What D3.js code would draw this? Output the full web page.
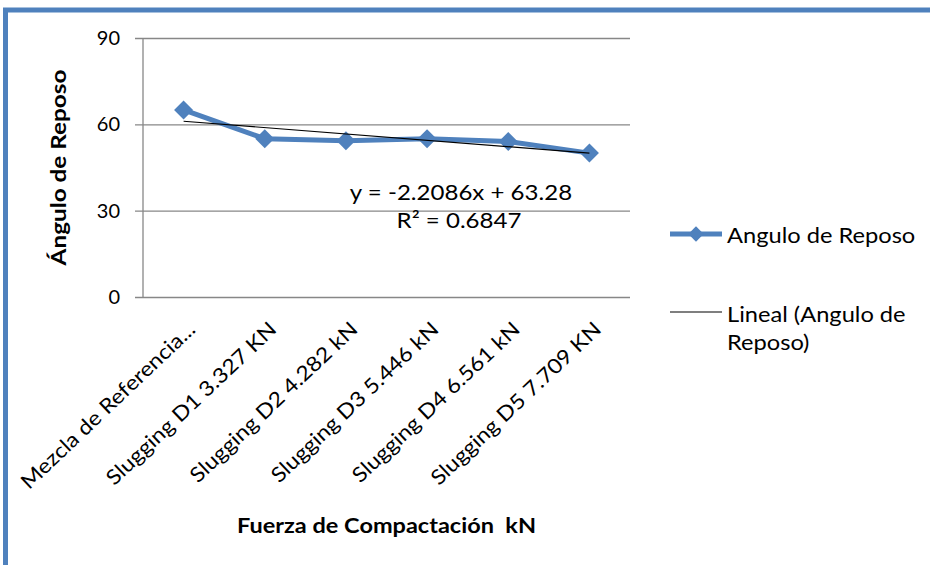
<!DOCTYPE html>
<html>
<head>
<meta charset="utf-8">
<script src="https://cdn.jsdelivr.net/npm/d3@7/dist/d3.min.js"></script>
<style>
  html, body { margin: 0; padding: 0; background: #fff; }
  svg { display: block; }
  text { font-family: Lato, "Open Sans", sans-serif; fill: #000; }
</style>
</head>
<body>
<svg id="chart" width="930" height="565"></svg>
<script>
// Angle of repose vs. compaction force
const categories = [
  "Mezcla de Referencia...",
  "Slugging D1 3.327 KN",
  "Slugging D2 4.282 kN",
  "Slugging D3 5.446 kN",
  "Slugging D4 6.561 kN",
  "Slugging D5 7.709 KN"
];
const anguloValues = [65, 55, 54.3, 55, 54, 50];
const yTicks = [0, 30, 60, 90];
const seriesName = "Angulo de Reposo";
const trendName = ["Lineal (Angulo de", "Reposo)"];
const yTitle = "Ángulo de Reposo";
const xTitle = "Fuerza de Compactación  kN";

const blue = "#4F81BD";
const gridGrey = "#878787";
const WIDEN = 1.12;   // glyphs widened along the text direction

const svg = d3.select("#chart");

// text helper: positioned, rotated and widened along its own baseline
function addText(parent, x, y, str, opt = {}) {
  const { angle = 0, size = 21, anchor = "start", weight = "normal", k = WIDEN } = opt;
  return parent.append("text")
    .attr("transform", `translate(${x},${y}) rotate(${angle}) scale(${k},1)`)
    .attr("text-anchor", anchor)
    .attr("font-size", size)
    .attr("font-weight", weight)
    .style("white-space", "pre")
    .text(str);
}

// frame
svg.append("rect")
  .attr("x", 5.5).attr("y", 10)
  .attr("width", 1000).attr("height", 1000)
  .attr("fill", "none").attr("stroke", blue).attr("stroke-width", 5);

const plot = { left: 143, right: 630, top: 38, bottom: 297 };

const x = d3.scaleBand().domain(categories).range([plot.left, plot.right]).padding(0);
const y = d3.scaleLinear().domain([0, 90]).range([plot.bottom, plot.top]);
const cx = d => x(d) + x.bandwidth() / 2;

// gridlines + y axis
const yAxis = d3.axisLeft(y).tickValues(yTicks).tickSize(-(plot.right - plot.left)).tickPadding(23);
const gy = svg.append("g").attr("transform", `translate(${plot.left},0)`).call(yAxis);
gy.select(".domain").remove();
gy.selectAll(".tick line").attr("stroke", gridGrey).attr("stroke-width", 1.3).attr("x1", -8);
gy.selectAll(".tick text").attr("font-size", 20).attr("fill", "#222").style("font-family", "Lato, sans-serif");

svg.append("line")
  .attr("x1", plot.left).attr("x2", plot.left)
  .attr("y1", plot.top).attr("y2", plot.bottom)
  .attr("stroke", gridGrey).attr("stroke-width", 1.3);

// category labels
const gx = svg.append("g");
categories.forEach(c => addText(gx, cx(c) + 13, plot.bottom + 34, c, { angle: -43.5, size: 20.6, anchor: "end", k: 1.12 }));

// series line
const line = d3.line().x((d, i) => cx(categories[i])).y(d => y(d));
svg.append("path").datum(anguloValues)
  .attr("d", line).attr("fill", "none")
  .attr("stroke", blue).attr("stroke-width", 5).attr("stroke-linejoin", "round");

// markers
const diamond = d3.symbol().type(d3.symbolDiamond2).size(230);
svg.selectAll(".marker").data(anguloValues).join("path")
  .attr("class", "marker")
  .attr("transform", (d, i) => `translate(${cx(categories[i])},${y(d)})`)
  .attr("d", diamond).attr("fill", blue);

// linear trendline (least squares over category index 1..n)
const n = anguloValues.length;
const xs = d3.range(1, n + 1);
const mx = d3.mean(xs), my = d3.mean(anguloValues);
const slope = d3.sum(xs, (xi, i) => (xi - mx) * (anguloValues[i] - my)) / d3.sum(xs, xi => (xi - mx) ** 2);
const intercept = my - slope * mx;
const ssTot = d3.sum(anguloValues, v => (v - my) ** 2);
const ssRes = d3.sum(xs, (xi, i) => (anguloValues[i] - (slope * xi + intercept)) ** 2);
const r2 = 1 - ssRes / ssTot;

svg.append("line")
  .attr("x1", cx(categories[0])).attr("y1", y(slope * 1 + intercept))
  .attr("x2", cx(categories[n - 1])).attr("y2", y(slope * n + intercept))
  .attr("stroke", "#000").attr("stroke-width", 1.2);

// equation label
addText(svg, 461, 200, `y = ${slope.toFixed(4)}x + ${intercept.toFixed(2)}`, { size: 21.5, anchor: "middle" });
addText(svg, 459, 227.5, `R² = ${r2.toFixed(4)}`, { size: 21.5, anchor: "middle" });

// axis titles
addText(svg, 66, 167.5, yTitle, { angle: -90, size: 21.5, anchor: "middle", weight: "bold", k: 1.13 });
addText(svg, (plot.left + plot.right) / 2, 533, xTitle, { size: 21, anchor: "middle", weight: "bold" });

// legend
const lg = svg.append("g");
lg.append("line").attr("x1", 670).attr("x2", 722).attr("y1", 234).attr("y2", 234)
  .attr("stroke", blue).attr("stroke-width", 5);
lg.append("path").attr("transform", "translate(696,234)")
  .attr("d", d3.symbol().type(d3.symbolDiamond2).size(150)).attr("fill", blue);
addText(lg, 727, 243, seriesName, { size: 21.5, k: 1.1 });
lg.append("line").attr("x1", 670).attr("x2", 722).attr("y1", 312).attr("y2", 312)
  .attr("stroke", "#000").attr("stroke-width", 1.2);
trendName.forEach((t, i) => addText(lg, 727, 321.5 + i * 28, t, { size: 21.5, k: 1.1 }));
</script>
</body>
</html>
